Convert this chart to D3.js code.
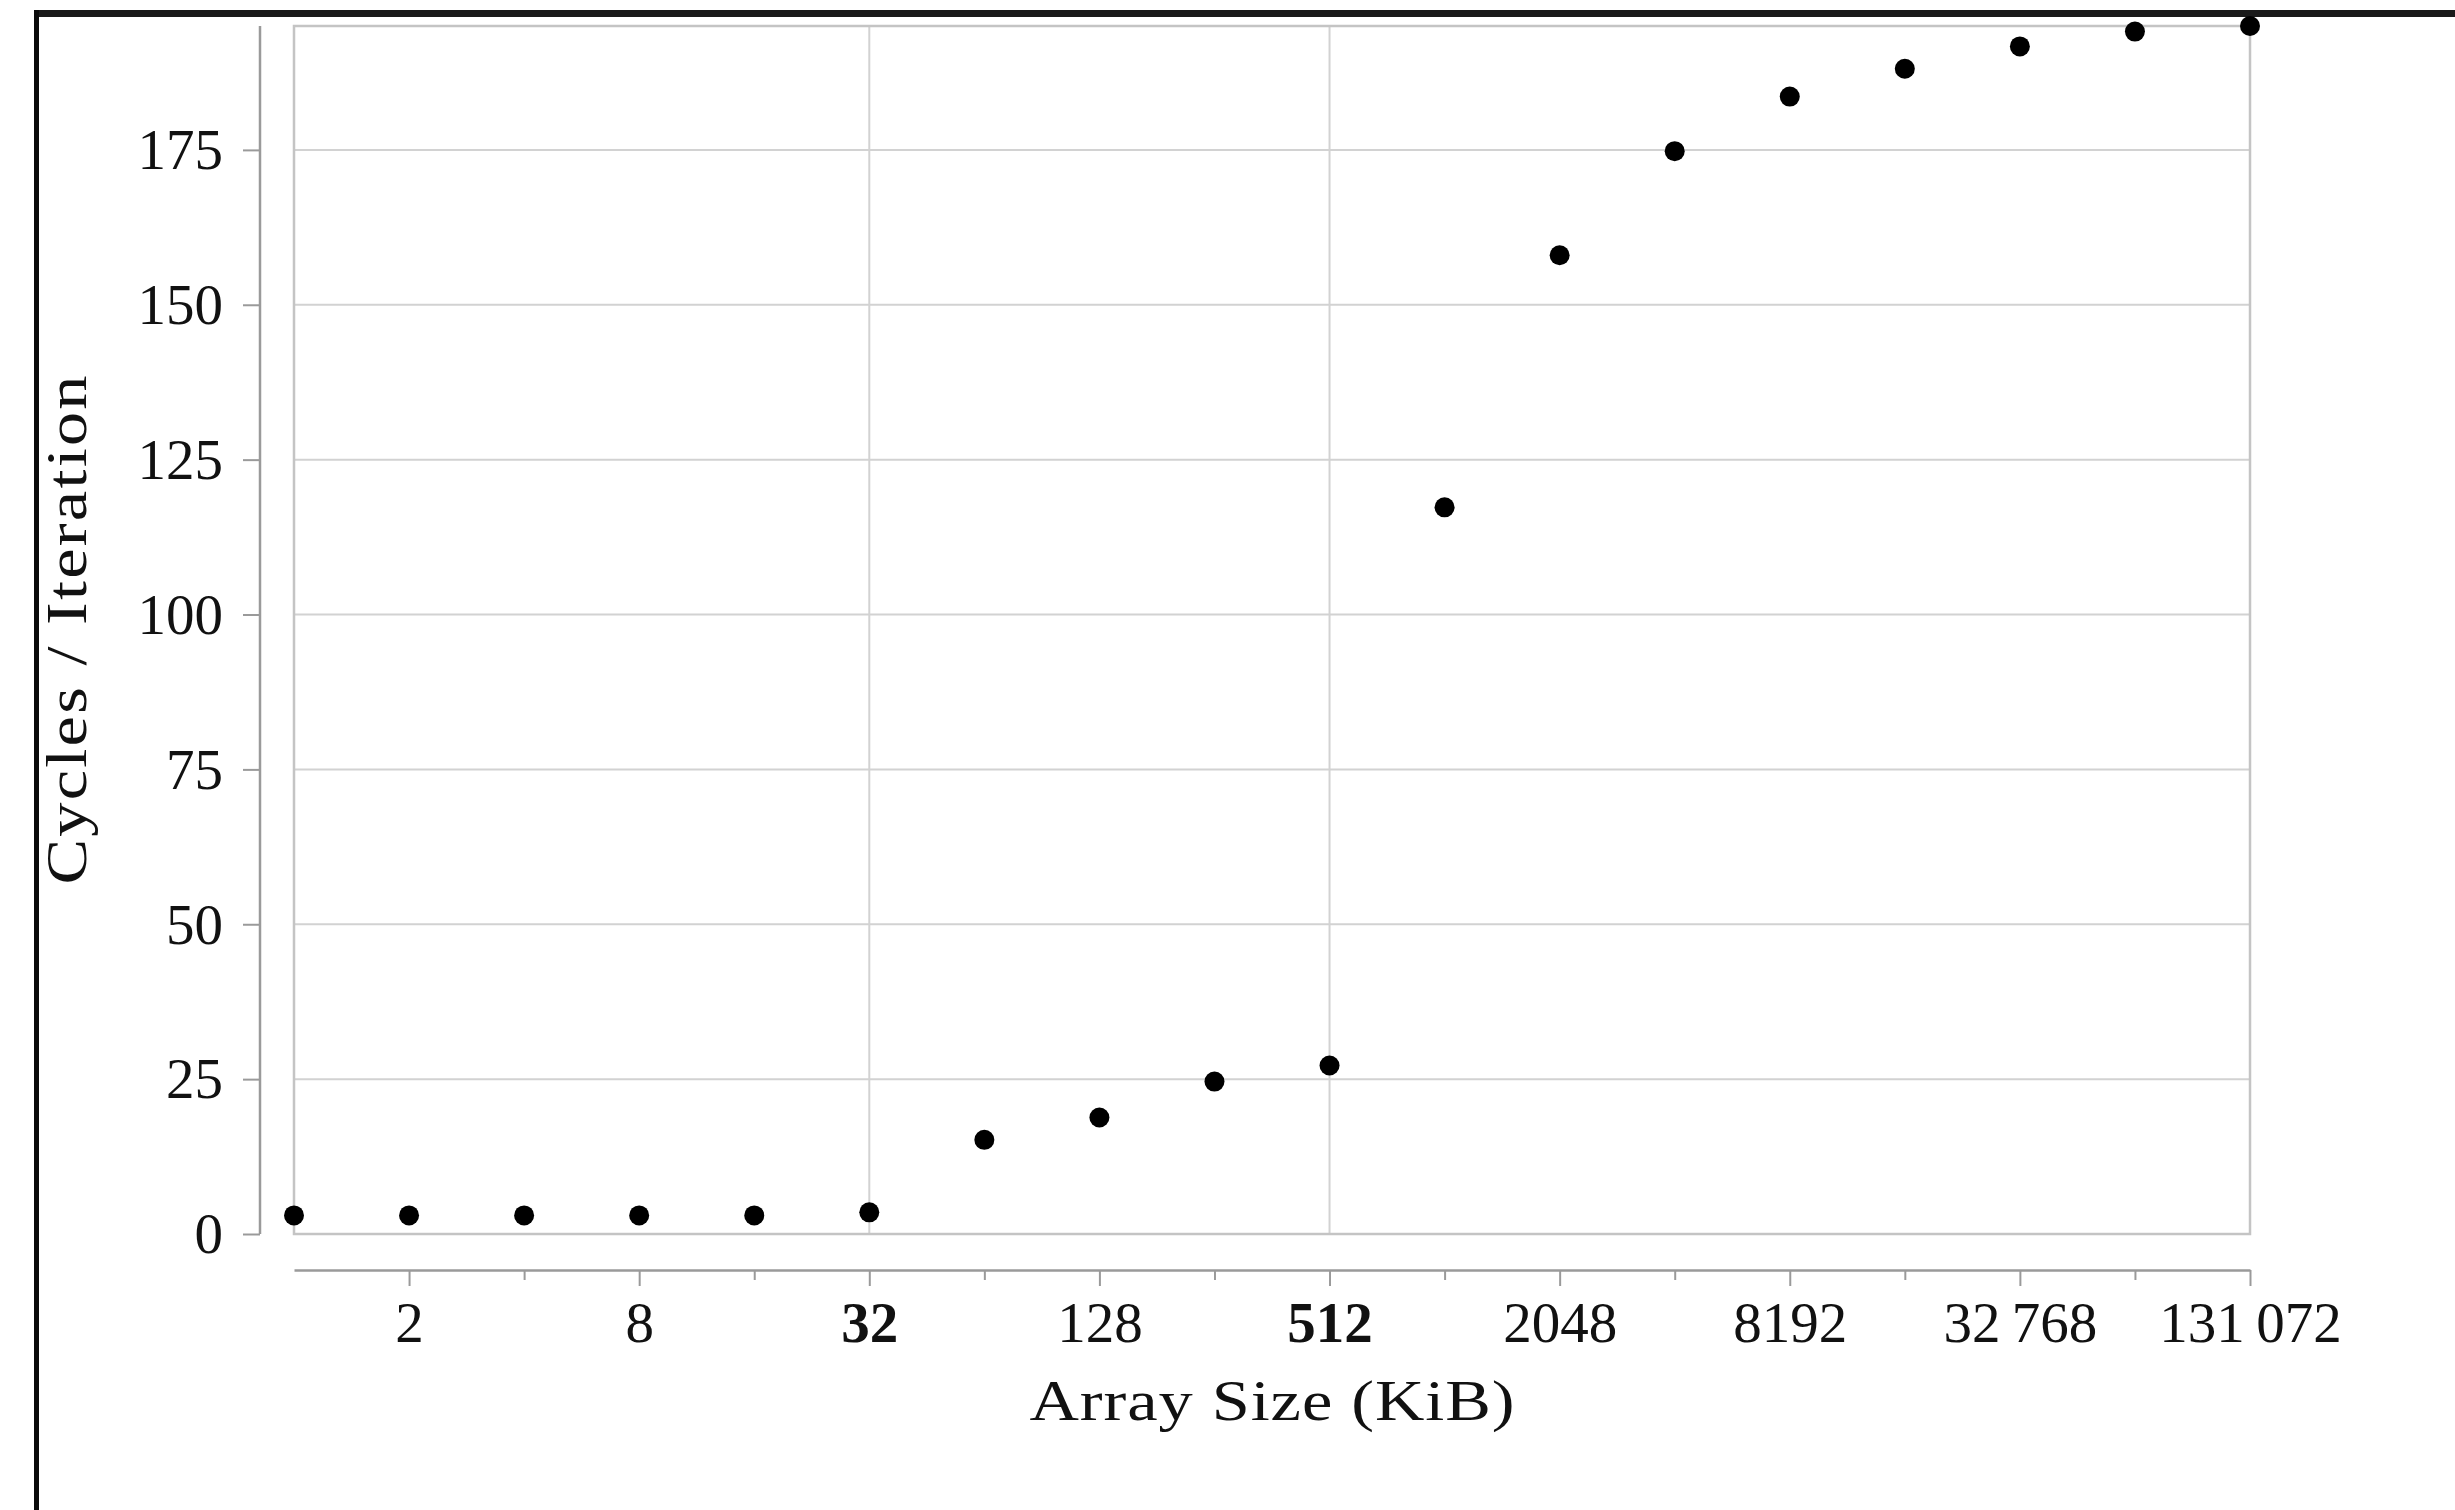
<!DOCTYPE html>
<html>
<head>
<meta charset="utf-8">
<script src="https://cdn.jsdelivr.net/npm/d3@7"></script>
<style>
  html, body { margin: 0; padding: 0; background: #fff; }
  svg { display: block; }
  text { font-family: "Liberation Serif", "DejaVu Serif", serif; fill: #111; }
</style>
</head>
<body>
<svg id="chart" width="2455" height="1510"></svg>
<script>
// Array sizes in KiB (powers of two) and measured cycles per iteration
const sizesKiB = [1, 2, 4, 8, 16, 32, 64, 128, 256, 512, 1024, 2048, 4096, 8192, 16384, 32768, 65536, 131072];
const cyclesPerIter = [3.0, 3.0, 3.0, 3.0, 3.0, 3.5, 15.2, 18.8, 24.6, 27.2, 117.3, 158.0, 174.8, 183.6, 188.1, 191.7, 194.1, 195.0];

// Axis ticks
const xTicks = [2, 4, 8, 16, 32, 64, 128, 256, 512, 1024, 2048, 4096, 8192, 16384, 32768, 65536, 131072];
const xLabelled = [2, 8, 32, 128, 512, 2048, 8192, 32768, 131072];
const xBold = [32, 512];           // cache-size boundaries
const xGridLines = [32, 512];
const yTicks = [0, 25, 50, 75, 100, 125, 150, 175];

const xTitle = "Array Size (KiB)";
const yTitle = "Cycles / Iteration";

const svg = d3.select("#chart");
const W = 2455, H = 1510;
const plot = { left: 294, right: 2250, top: 26, bottom: 1234 };
const fontSize = 57;

const x = d3.scaleLog().base(2).domain([1, 131072]).range([plot.left, plot.right]);
const y = d3.scaleLinear().domain([0, 195]).range([plot.bottom, plot.top]);

// thin-space grouped numbers, e.g. 32 768
const fmt = d => {
  const s = String(d);
  return s.length > 4 ? s.replace(/\B(?=(\d{3})+(?!\d))/g, "\u2009") : s;
};

// page frame
svg.append("line").attr("x1", 34).attr("x2", W).attr("y1", 13.5).attr("y2", 13.5)
  .attr("stroke", "#1a1a1a").attr("stroke-width", 7);
svg.append("line").attr("x1", 36.5).attr("x2", 36.5).attr("y1", 10).attr("y2", H)
  .attr("stroke", "#0a0a0a").attr("stroke-width", 5);

// horizontal grid
svg.append("g").selectAll("line").data(yTicks).join("line")
  .attr("x1", plot.left).attr("x2", plot.right)
  .attr("y1", d => y(d)).attr("y2", d => y(d))
  .attr("stroke", "#d2d2d2").attr("stroke-width", 2);

// vertical grid at cache sizes
svg.append("g").selectAll("line").data(xGridLines).join("line")
  .attr("x1", d => x(d)).attr("x2", d => x(d))
  .attr("y1", plot.top).attr("y2", plot.bottom)
  .attr("stroke", "#d2d2d2").attr("stroke-width", 2);

// plot frame
svg.append("rect")
  .attr("x", plot.left).attr("y", plot.top)
  .attr("width", plot.right - plot.left).attr("height", plot.bottom - plot.top)
  .attr("fill", "none").attr("stroke", "#c4c4c4").attr("stroke-width", 2.5);

// x axis, offset below the plot
const xAxisY = 1270;
const gx = svg.append("g").attr("transform", `translate(0,${xAxisY})`)
  .call(d3.axisBottom(x).tickValues(xTicks)
    .tickFormat(d => xLabelled.includes(d) ? fmt(d) : "")
    .tickSize(16).tickSizeOuter(0));
gx.select(".domain").attr("stroke", "#9a9a9a").attr("stroke-width", 2.5);
gx.selectAll(".tick line").attr("stroke", "#9a9a9a").attr("stroke-width", 2)
  .attr("y2", d => xLabelled.includes(d) ? 16 : 10);
gx.selectAll(".tick text")
  .attr("y", 72).attr("dy", 0)
  .attr("font-size", fontSize)
  .attr("font-family", "Liberation Serif")
  .attr("font-weight", d => xBold.includes(d) ? "bold" : "normal")
  .attr("fill", "#111");

// y axis, offset left of the plot
const yAxisX = 260;
const gy = svg.append("g").attr("transform", `translate(${yAxisX},0)`)
  .call(d3.axisLeft(y).tickValues(yTicks).tickSize(17).tickSizeOuter(0));
gy.select(".domain").attr("stroke", "#9a9a9a").attr("stroke-width", 2.5)
  .attr("d", `M0,${plot.top}V${plot.bottom}`);
gy.selectAll(".tick line").attr("stroke", "#9a9a9a").attr("stroke-width", 2);
gy.selectAll(".tick text")
  .attr("x", -37).attr("dy", "0.33em")
  .attr("font-size", fontSize)
  .attr("font-family", "Liberation Serif")
  .attr("fill", "#111");

// axis titles: glyphs widened slightly along the reading direction
const stretch = 1.2;
svg.append("text")
  .attr("transform", `translate(${(plot.left + plot.right) / 2},1420) scale(${stretch},1)`)
  .attr("text-anchor", "middle").attr("font-size", fontSize)
  .attr("textLength", 485 / stretch).attr("lengthAdjust", "spacing")
  .text(xTitle);

svg.append("text")
  .attr("transform", `translate(86,${(plot.top + plot.bottom) / 2}) rotate(-90) scale(${stretch},1)`)
  .attr("text-anchor", "middle").attr("font-size", fontSize)
  .attr("textLength", 509 / stretch).attr("lengthAdjust", "spacing")
  .text(yTitle);

// data points
svg.append("g").selectAll("circle")
  .data(sizesKiB.map((s, i) => ({ s, c: cyclesPerIter[i] })))
  .join("circle")
  .attr("cx", d => x(d.s)).attr("cy", d => y(d.c))
  .attr("r", 10).attr("fill", "#000");
</script>
</body>
</html>
